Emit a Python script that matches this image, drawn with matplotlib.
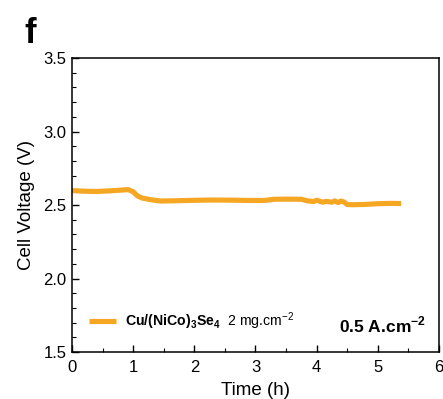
import numpy as np
import matplotlib.pyplot as plt
from matplotlib.ticker import MultipleLocator

plt.rcParams['font.family'] = ['Liberation Sans', 'DejaVu Sans']
plt.rcParams['mathtext.fontset'] = 'custom'
plt.rcParams['mathtext.rm'] = 'Liberation Sans'
plt.rcParams['mathtext.bf'] = 'Liberation Sans:bold'

# stability curve
time_h = [0.0, 0.2, 0.4, 0.6, 0.8, 0.92, 1.0, 1.07, 1.15, 1.3, 1.45, 1.7, 2.0, 2.3, 2.6,
          2.9, 3.15, 3.3, 3.5, 3.75, 3.85, 3.95, 4.0, 4.1, 4.15, 4.25, 4.3, 4.35,
          4.4, 4.45, 4.5, 4.6, 4.8, 5.0, 5.2, 5.38]
voltage = [2.598, 2.594, 2.592, 2.596, 2.601, 2.605, 2.59, 2.562, 2.547, 2.535, 2.527,
           2.529, 2.532, 2.534, 2.533, 2.531, 2.531, 2.539, 2.540, 2.539, 2.528, 2.524,
           2.532, 2.519, 2.525, 2.519, 2.528, 2.516, 2.527, 2.520, 2.503, 2.502, 2.504,
           2.509, 2.511, 2.510]
color = '#F5A623'

fig = plt.figure(figsize=(4.43, 3.99), dpi=100)
ax = fig.add_axes([0.1625, 0.1178, 0.8284, 0.7368])

ax.plot(time_h, voltage, color=color, lw=3.7, solid_capstyle='butt',
        label=r'$\mathbf{Cu/(NiCo)_3Se_4}$  2 mg.cm$^{-2}$')

ax.set_xlim(0, 6)
ax.set_ylim(1.5, 3.5)
ax.xaxis.set_major_locator(MultipleLocator(1))
ax.xaxis.set_minor_locator(MultipleLocator(0.5))
ax.yaxis.set_major_locator(MultipleLocator(0.5))
ax.yaxis.set_minor_locator(MultipleLocator(0.1))
ax.set_yticks([1.5, 2.0, 2.5, 3.0, 3.5])
ax.set_yticklabels(['1.5', '2.0', '2.5', '3.0', '3.5'])
ax.tick_params(which='both', direction='in', labelsize=12)
ax.tick_params(which='major', length=5, width=1)
ax.tick_params(which='minor', length=3, width=0.8)
ax.tick_params(axis='x', pad=6)
ax.tick_params(axis='y', pad=4)
for s in ax.spines.values():
    s.set_linewidth(1.1)

ax.set_xlabel('Time (h)', fontsize=13.5, labelpad=5)
ax.set_ylabel('Cell Voltage (V)', fontsize=13.5, labelpad=6)

ax.legend(loc='lower left', bbox_to_anchor=(0.012, 0.025), frameon=False, fontsize=10.2,
          handlelength=1.9, handletextpad=0.6)
ax.text(0.965, 0.09, '0.5 A.cm' + r'$^{\mathbf{-2}}$', transform=ax.transAxes,
        ha='right', va='center', fontsize=12.5, fontweight='bold')

fig.text(0.055, 0.915, 'f', fontsize=25, fontweight='bold', va='center')

fig.savefig('out.png', dpi=100)
